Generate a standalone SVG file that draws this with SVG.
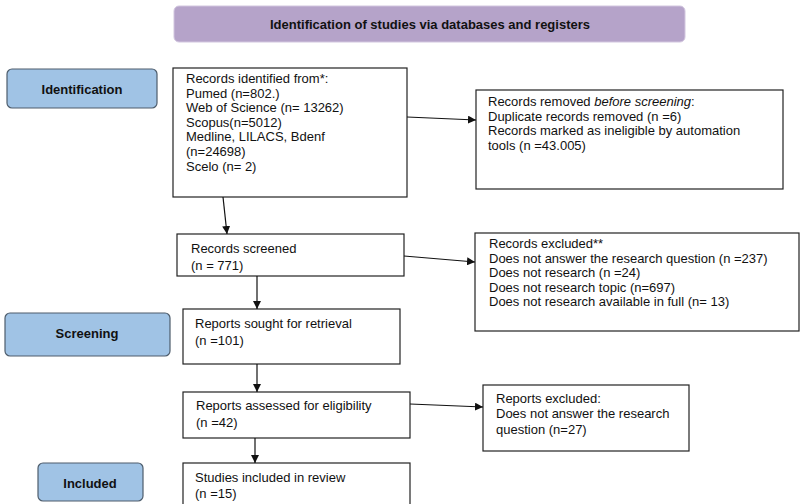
<svg xmlns="http://www.w3.org/2000/svg" width="800" height="504" viewBox="0 0 800 504">
<style>
text{font-family:"Liberation Sans",Arial,sans-serif;font-size:13px;fill:#111}
.b{font-weight:bold;font-size:13px;text-anchor:middle}
.box{fill:#fff;stroke:#222;stroke-width:1.2}
.lab{fill:#a0c3e5;stroke:#4e5d6c;stroke-width:1.2}
.c{stroke:#111;stroke-width:1.2;fill:none;marker-end:url(#ah)}
</style>
<defs>
<marker id="ah" viewBox="0 0 10 10" refX="10" refY="5" markerWidth="8" markerHeight="8" markerUnits="userSpaceOnUse" orient="auto">
<path d="M0,0 L10,5 L0,10 z" fill="#111"/>
</marker>
</defs>
<rect width="800" height="504" fill="#fff"/>
<g id="title">
<rect x="174" y="6" width="511" height="36" rx="5" fill="#b5a3c9" stroke="#d2c6df" stroke-width="1"/>
<text class="b" x="430" y="28.5">Identification of studies via databases and registers</text>
</g>
<g id="lab-identification">
<rect class="lab" x="7" y="69" width="150" height="39" rx="5"/>
<text class="b" x="82" y="93.5">Identification</text>
</g>
<g id="lab-screening">
<rect class="lab" x="5" y="313" width="165" height="43" rx="5"/>
<text class="b" x="87" y="338">Screening</text>
</g>
<g id="lab-included">
<rect class="lab" x="38" y="463" width="105" height="38" rx="5"/>
<text class="b" x="90" y="487.5">Included</text>
</g>
<g id="identified">
<rect class="box" x="173" y="68" width="234" height="129"/>
<text x="186" y="83">Records identified from*:</text>
<text x="186" y="97.6">Pumed (n=802.)</text>
<text x="186" y="112.2">Web of Science (n= 13262)</text>
<text x="186" y="126.8">Scopus(n=5012)</text>
<text x="186" y="141.4">Medline, LILACS, Bdenf</text>
<text x="186" y="156">(n=24698)</text>
<text x="186" y="170.6">Scelo (n= 2)</text>
</g>
<g id="removed">
<rect class="box" x="476" y="90" width="307" height="99"/>
<text x="488" y="106">Records removed <tspan font-style="italic">before screening</tspan>:</text>
<text x="488" y="120.6">Duplicate records removed (n =6)</text>
<text x="488" y="135.2">Records marked as ineligible by automation</text>
<text x="488" y="149.8">tools (n =43.005)</text>
</g>
<g id="screened">
<rect class="box" x="177" y="234" width="227" height="42"/>
<text x="191" y="252.5">Records screened</text>
<text x="191" y="269.5">(n = 771)</text>
</g>
<g id="excluded">
<rect class="box" x="475" y="233" width="324" height="98"/>
<text x="489" y="248">Records excluded**</text>
<text x="489" y="262.6">Does not answer the research question (n =237)</text>
<text x="489" y="277.2">Does not research (n =24)</text>
<text x="489" y="291.8">Does not research topic (n=697)</text>
<text x="489" y="306.4">Does not research available in full (n= 13)</text>
</g>
<g id="sought">
<rect class="box" x="183" y="309" width="217" height="55"/>
<text x="195" y="327.5">Reports sought for retrieval</text>
<text x="195" y="345">(n =101)</text>
</g>
<g id="assessed">
<rect class="box" x="183" y="392" width="227" height="46"/>
<text x="196" y="409.5">Reports assessed for eligibility</text>
<text x="196" y="427">(n =42)</text>
</g>
<g id="rep-excluded">
<rect class="box" x="483" y="385" width="206" height="66"/>
<text x="496" y="402.5">Reports excluded:</text>
<text x="496" y="418">Does not answer the research</text>
<text x="496" y="434">question (n=27)</text>
</g>
<g id="included">
<rect class="box" x="183" y="463" width="227" height="45"/>
<text x="195" y="481.5">Studies included in review</text>
<text x="195" y="497.5">(n =15)</text>
</g>
<g id="connectors">
<path class="c" d="M407,117 L476,120"/>
<path class="c" d="M223,197 L227,234"/>
<path class="c" d="M404,256 L475,262"/>
<path class="c" d="M257,276 L257,309"/>
<path class="c" d="M257,364 L257,392"/>
<path class="c" d="M410,404 L483,407"/>
<path class="c" d="M255,438 L255,463"/>
</g>
</svg>
